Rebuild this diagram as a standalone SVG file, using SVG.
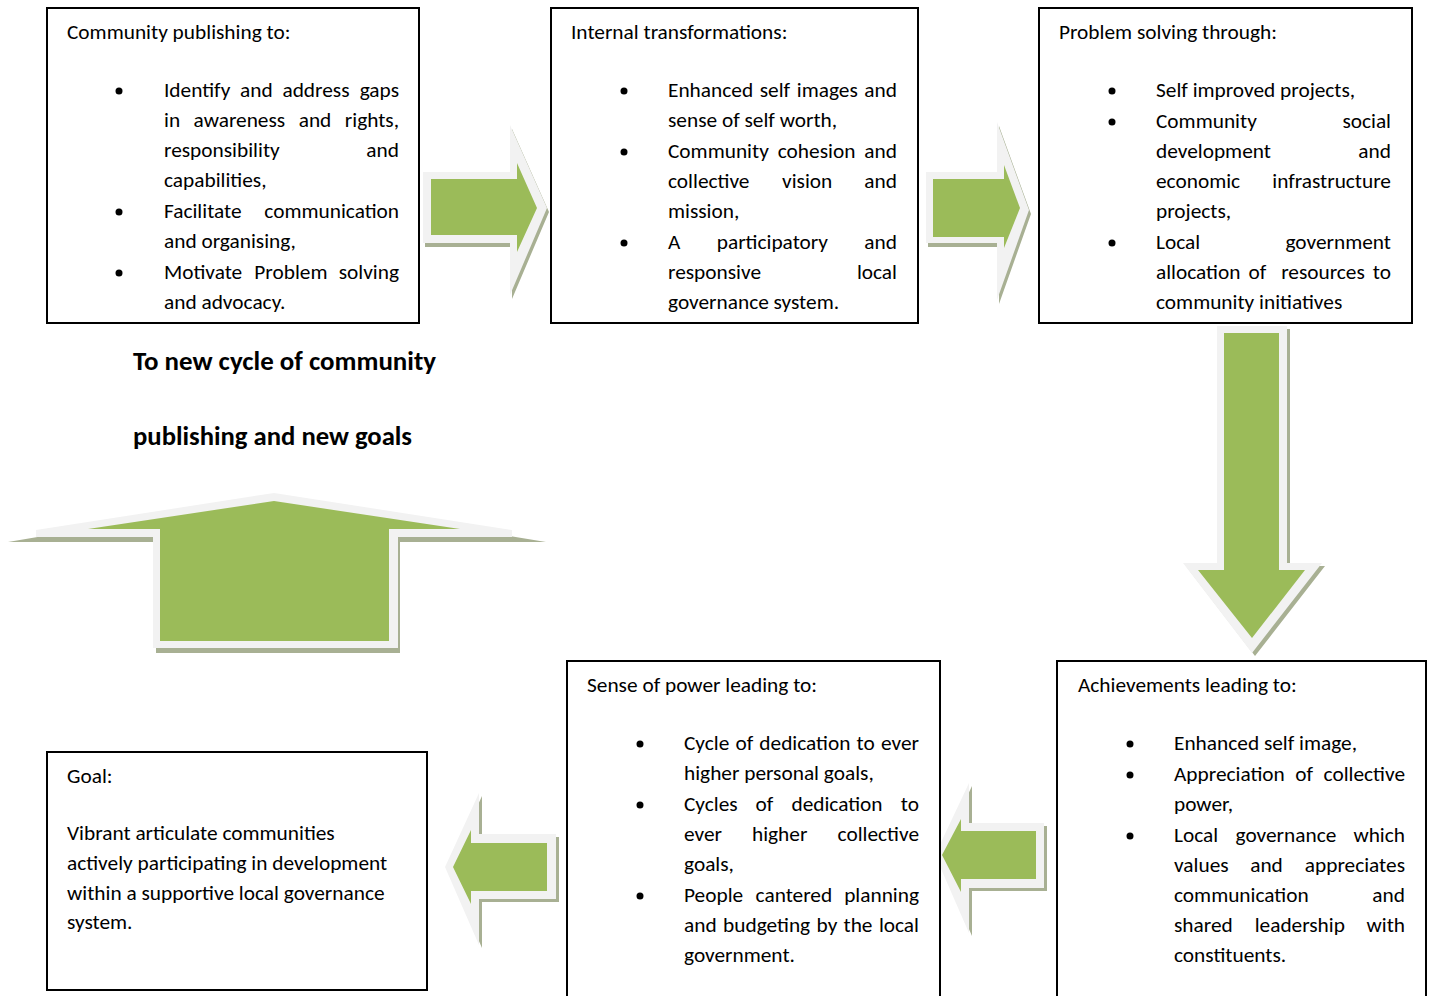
<svg xmlns="http://www.w3.org/2000/svg" width="1432" height="996" viewBox="0 0 1432 996">
<style>
.box{fill:#fff;stroke:#000;stroke-width:2}
.t{font-family:Carlito,Lato,"Liberation Sans",sans-serif;font-size:21.33px;fill:#000}
.b{font-family:Carlito,Lato,"Liberation Sans",sans-serif;font-size:26.67px;font-weight:bold;fill:#000}
.m{text-anchor:middle}
.e{text-anchor:end}
.sh{fill:#A8B093}
.wh{fill:#F2F2F2}
.gr{fill:#9BBB59}
</style>
<rect width="1432" height="996" fill="#fff"/>
<g id="connectors">
  <g id="arrow-1-2">
    <polygon class="sh" transform="translate(2,4)" points="423,172 510,172 510,125 547,208 510,295 510,243 423,243"/>
    <polygon class="wh" points="423,172 510,172 510,125 547,208 510,295 510,243 423,243"/>
    <polygon class="gr" points="431,179 517,179 517,163 537,208 517,252 517,235 431,235"/>
  </g>
  <g id="arrow-2-3">
    <polygon class="sh" transform="translate(2,4)" points="926,172 997,172 997,122 1029,210 997,300 997,243 926,243"/>
    <polygon class="wh" points="926,172 997,172 997,122 1029,210 997,300 997,243 926,243"/>
    <polygon class="gr" points="933,179 1004,179 1004,165 1020,208 1004,248 1004,237 933,237"/>
  </g>
  <g id="arrow-3-5">
    <polygon class="sh" transform="translate(3,3)" points="1217,326 1287,326 1287,563 1322,563 1252,653 1183,563 1217,563"/>
    <polygon class="wh" points="1217,326 1287,326 1287,563 1322,563 1252,653 1183,563 1217,563"/>
    <polygon class="gr" points="1224,333 1279,333 1279,570 1305,570 1252,638 1198,570 1224,570"/>
  </g>
  <g id="arrow-5-4">
    <polygon class="sh" transform="translate(3,3)" points="1044,823 969,823 969,783 935,855 969,933 969,888 1044,888"/>
    <polygon class="wh" points="1044,823 969,823 969,783 935,855 969,933 969,888 1044,888"/>
    <polygon class="gr" points="1036,831 961,831 961,819 942,855 961,892 961,879 1036,879"/>
  </g>
  <g id="arrow-4-goal">
    <polygon class="sh" transform="translate(3,3)" points="556,834 479,834 479,793 445,867 479,945 479,899 556,899"/>
    <polygon class="wh" points="556,834 479,834 479,793 445,867 479,945 479,899 556,899"/>
    <polygon class="gr" points="547,843 471,843 471,830 453,867 471,904 471,891 547,891"/>
  </g>
  <g id="arrow-up">
    <polygon class="sh" points="8,542 274,497 546,542 400,542 400,653 156,653 156,542"/>
    <polygon class="wh" points="36,530 274,493 512,530 512,537 398,537 398,648 153,648 153,537 36,537"/>
    <polygon class="gr" points="88,529 274,501 460,529 389,529 389,641 160,641 160,529"/>
  </g>
</g>

<g id="node-community-publishing">
  <rect class="box" x="47" y="8" width="372" height="315"/>
  <text class="t" x="67" y="39">Community publishing to:</text>
  <circle cx="119" cy="91" r="3.5"/>
  <circle cx="119" cy="212" r="3.5"/>
  <circle cx="119" cy="273" r="3.5"/>
  <text class="t" y="97"><tspan x="164">Identify</tspan><tspan x="256.4" class="m">and</tspan><tspan x="316" class="m">address</tspan><tspan x="399" class="e">gaps</tspan></text>
  <text class="t" y="127"><tspan x="164">in</tspan><tspan x="239.4" class="m">awareness</tspan><tspan x="315" class="m">and</tspan><tspan x="399" class="e">rights,</tspan></text>
  <text class="t" y="157"><tspan x="164">responsibility</tspan><tspan x="399" class="e">and</tspan></text>
  <text class="t" x="164" y="187">capabilities,</text>
  <text class="t" y="218"><tspan x="164">Facilitate</tspan><tspan x="399" class="e">communication</tspan></text>
  <text class="t" x="164" y="248">and organising,</text>
  <text class="t" y="279"><tspan x="164">Motivate</tspan><tspan x="290.9" class="m">Problem</tspan><tspan x="399" class="e">solving</tspan></text>
  <text class="t" x="164" y="309">and advocacy.</text>
</g>

<g id="node-internal-transformations">
  <rect class="box" x="551" y="8" width="367" height="315"/>
  <text class="t" x="571" y="39">Internal transformations:</text>
  <circle cx="624" cy="91" r="3.5"/>
  <circle cx="624" cy="152" r="3.5"/>
  <circle cx="624" cy="243" r="3.5"/>
  <text class="t" y="97"><tspan x="668">Enhanced</tspan><tspan x="774.9" class="m">self</tspan><tspan x="827.3" class="m">images</tspan><tspan x="897" class="e">and</tspan></text>
  <text class="t" x="668" y="127">sense of self worth,</text>
  <text class="t" y="158"><tspan x="668">Community</tspan><tspan x="816.6" class="m">cohesion</tspan><tspan x="897" class="e">and</tspan></text>
  <text class="t" y="188"><tspan x="668">collective</tspan><tspan x="807.2" class="m">vision</tspan><tspan x="897" class="e">and</tspan></text>
  <text class="t" x="668" y="218">mission,</text>
  <text class="t" y="249"><tspan x="668">A</tspan><tspan x="772.4" class="m">participatory</tspan><tspan x="897" class="e">and</tspan></text>
  <text class="t" y="279"><tspan x="668">responsive</tspan><tspan x="897" class="e">local</tspan></text>
  <text class="t" x="668" y="309">governance system.</text>
</g>

<g id="node-problem-solving">
  <rect class="box" x="1039" y="8" width="373" height="315"/>
  <text class="t" x="1059" y="39">Problem solving through:</text>
  <circle cx="1112" cy="91" r="3.5"/>
  <circle cx="1112" cy="122" r="3.5"/>
  <circle cx="1112" cy="243" r="3.5"/>
  <text class="t" x="1156" y="97">Self improved projects,</text>
  <text class="t" y="128"><tspan x="1156">Community</tspan><tspan x="1391" class="e">social</tspan></text>
  <text class="t" y="158"><tspan x="1156">development</tspan><tspan x="1391" class="e">and</tspan></text>
  <text class="t" y="188"><tspan x="1156">economic</tspan><tspan x="1391" class="e">infrastructure</tspan></text>
  <text class="t" x="1156" y="218">projects,</text>
  <text class="t" y="249"><tspan x="1156">Local</tspan><tspan x="1391" class="e">government</tspan></text>
  <text class="t" y="279"><tspan x="1156">allocation</tspan><tspan x="1257.3" class="m">of</tspan><tspan x="1323" class="m">resources</tspan><tspan x="1391" class="e">to</tspan></text>
  <text class="t" x="1156" y="309">community initiatives</text>
</g>

<g id="node-new-cycle-label">
  <text class="b" x="133" y="370" textLength="303" lengthAdjust="spacingAndGlyphs">To new cycle of community</text>
  <text class="b" x="133" y="445" textLength="279" lengthAdjust="spacingAndGlyphs">publishing and new goals</text>
</g>

<g id="node-sense-of-power">
  <rect class="box" x="567" y="661" width="373" height="345"/>
  <text class="t" x="587" y="692">Sense of power leading to:</text>
  <circle cx="640" cy="744" r="3.5"/>
  <circle cx="640" cy="805" r="3.5"/>
  <circle cx="640" cy="896" r="3.5"/>
  <text class="t" y="750"><tspan x="684">Cycle</tspan><tspan x="744.3" class="m">of</tspan><tspan x="804.9" class="m">dedication</tspan><tspan x="865.7" class="m">to</tspan><tspan x="919" class="e">ever</tspan></text>
  <text class="t" x="684" y="780">higher personal goals,</text>
  <text class="t" y="811"><tspan x="684">Cycles</tspan><tspan x="764.5" class="m">of</tspan><tspan x="837" class="m">dedication</tspan><tspan x="919" class="e">to</tspan></text>
  <text class="t" y="841"><tspan x="684">ever</tspan><tspan x="779.7" class="m">higher</tspan><tspan x="919" class="e">collective</tspan></text>
  <text class="t" x="684" y="871">goals,</text>
  <text class="t" y="902"><tspan x="684">People</tspan><tspan x="793.9" class="m">cantered</tspan><tspan x="919" class="e">planning</tspan></text>
  <text class="t" y="932"><tspan x="684">and</tspan><tspan x="766.6" class="m">budgeting</tspan><tspan x="827" class="m">by</tspan><tspan x="858" class="m">the</tspan><tspan x="919" class="e">local</tspan></text>
  <text class="t" x="684" y="962">government.</text>
</g>

<g id="node-achievements">
  <rect class="box" x="1057" y="661" width="369" height="345"/>
  <text class="t" x="1078" y="692">Achievements leading to:</text>
  <circle cx="1130" cy="744" r="3.5"/>
  <circle cx="1130" cy="775" r="3.5"/>
  <circle cx="1130" cy="836" r="3.5"/>
  <text class="t" x="1174" y="750">Enhanced self image,</text>
  <text class="t" y="781"><tspan x="1174">Appreciation</tspan><tspan x="1304.2" class="m">of</tspan><tspan x="1405" class="e">collective</tspan></text>
  <text class="t" x="1174" y="811">power,</text>
  <text class="t" y="842"><tspan x="1174">Local</tspan><tspan x="1285.9" class="m">governance</tspan><tspan x="1405" class="e">which</tspan></text>
  <text class="t" y="872"><tspan x="1174">values</tspan><tspan x="1266.5" class="m">and</tspan><tspan x="1405" class="e">appreciates</tspan></text>
  <text class="t" y="902"><tspan x="1174">communication</tspan><tspan x="1405" class="e">and</tspan></text>
  <text class="t" y="932"><tspan x="1174">shared</tspan><tspan x="1299.8" class="m">leadership</tspan><tspan x="1405" class="e">with</tspan></text>
  <text class="t" x="1174" y="962">constituents.</text>
</g>

<g id="node-goal">
  <rect class="box" x="47" y="752" width="380" height="238"/>
  <text class="t" x="67" y="783">Goal:</text>
  <text class="t" x="67" y="840">Vibrant articulate communities</text>
  <text class="t" x="67" y="870">actively participating in development</text>
  <text class="t" x="67" y="900">within a supportive local governance</text>
  <text class="t" x="67" y="929">system.</text>
</g>
</svg>
